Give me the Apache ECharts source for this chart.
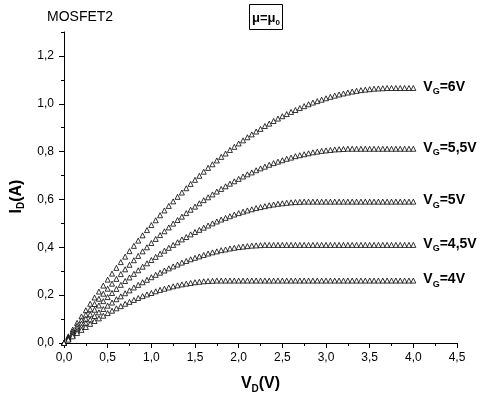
<!DOCTYPE html>
<html><head><meta charset="utf-8">
<script src="https://cdn.jsdelivr.net/npm/echarts@6/dist/echarts.min.js"></script>
<style>html,body{margin:0;padding:0;background:#fff}#c{width:482px;height:395px}</style>
</head><body><div id="c"></div>
<script>
const vd = [0,0.05,0.1,0.15,0.2,0.25,0.3,0.35,0.4,0.45,
0.5,0.55,0.6,0.65,0.7,0.75,0.8,0.85,0.9,0.95,
1,1.05,1.1,1.15,1.2,1.25,1.3,1.35,1.4,1.45,
1.5,1.55,1.6,1.65,1.7,1.75,1.8,1.85,1.9,1.95,
2,2.05,2.1,2.15,2.2,2.25,2.3,2.35,2.4,2.45,
2.5,2.55,2.6,2.65,2.7,2.75,2.8,2.85,2.9,2.95,
3,3.05,3.1,3.15,3.2,3.25,3.3,3.35,3.4,3.45,
3.5,3.55,3.6,3.65,3.7,3.75,3.8,3.85,3.9,3.95,
4];
const id6 = [0,0.028,0.056,0.084,0.111,0.137,0.164,0.190,0.215,0.240,
0.265,0.290,0.314,0.338,0.361,0.384,0.406,0.428,0.450,0.472,
0.493,0.513,0.534,0.554,0.573,0.592,0.611,0.629,0.647,0.665,
0.682,0.699,0.716,0.732,0.747,0.763,0.778,0.792,0.807,0.820,
0.834,0.847,0.860,0.872,0.884,0.895,0.907,0.917,0.928,0.938,
0.948,0.957,0.966,0.974,0.982,0.990,0.998,1.005,1.011,1.017,
1.023,1.029,1.034,1.039,1.043,1.047,1.051,1.054,1.057,1.059,
1.061,1.063,1.064,1.065,1.066,1.066,1.066,1.066,1.066,1.066,
1.066];
const id55 = [0,0.024,0.048,0.072,0.095,0.118,0.141,0.163,0.185,0.206,
0.227,0.248,0.268,0.288,0.308,0.327,0.346,0.364,0.383,0.400,
0.418,0.435,0.451,0.467,0.483,0.499,0.514,0.528,0.543,0.557,
0.570,0.584,0.597,0.609,0.621,0.633,0.644,0.655,0.666,0.676,
0.686,0.696,0.705,0.713,0.722,0.730,0.737,0.745,0.752,0.758,
0.764,0.770,0.775,0.781,0.785,0.789,0.793,0.797,0.800,0.803,
0.805,0.807,0.809,0.810,0.811,0.812,0.812,0.812,0.812,0.812,
0.812,0.812,0.812,0.812,0.812,0.812,0.812,0.812,0.812,0.812,
0.812];
const id5 = [0,0.021,0.041,0.062,0.081,0.101,0.120,0.139,0.157,0.175,
0.192,0.209,0.226,0.243,0.259,0.274,0.289,0.304,0.319,0.333,
0.347,0.360,0.373,0.386,0.398,0.410,0.421,0.433,0.443,0.454,
0.464,0.473,0.482,0.491,0.500,0.508,0.516,0.523,0.530,0.537,
0.543,0.549,0.554,0.559,0.564,0.568,0.572,0.576,0.579,0.582,
0.584,0.586,0.588,0.589,0.590,0.591,0.591,0.591,0.591,0.591,
0.591,0.591,0.591,0.591,0.591,0.591,0.591,0.591,0.591,0.591,
0.591,0.591,0.591,0.591,0.591,0.591,0.591,0.591,0.591,0.591,
0.591];
const id45 = [0,0.017,0.034,0.051,0.067,0.083,0.098,0.113,0.128,0.142,
0.156,0.169,0.183,0.195,0.208,0.220,0.232,0.243,0.254,0.264,
0.275,0.285,0.294,0.303,0.312,0.320,0.328,0.336,0.343,0.350,
0.356,0.362,0.368,0.374,0.379,0.383,0.388,0.391,0.395,0.398,
0.401,0.403,0.405,0.407,0.408,0.409,0.410,0.410,0.410,0.410,
0.410,0.410,0.410,0.410,0.410,0.410,0.410,0.410,0.410,0.410,
0.410,0.410,0.410,0.410,0.410,0.410,0.410,0.410,0.410,0.410,
0.410,0.410,0.410,0.410,0.410,0.410,0.410,0.410,0.410,0.410,
0.410];
const id4 = [0,0.014,0.028,0.042,0.055,0.067,0.080,0.092,0.103,0.114,
0.125,0.135,0.145,0.154,0.164,0.172,0.180,0.188,0.196,0.203,
0.209,0.216,0.222,0.227,0.232,0.237,0.241,0.245,0.248,0.251,
0.254,0.256,0.258,0.259,0.260,0.261,0.261,0.261,0.261,0.261,
0.261,0.261,0.261,0.261,0.261,0.261,0.261,0.261,0.261,0.261,
0.261,0.261,0.261,0.261,0.261,0.261,0.261,0.261,0.261,0.261,
0.261,0.261,0.261,0.261,0.261,0.261,0.261,0.261,0.261,0.261,
0.261,0.261,0.261,0.261,0.261,0.261,0.261,0.261,0.261,0.261,
0.261];
const curves = [id6, id55, id5, id45, id4];
const gateLabels = ['6V', '5,5V', '5V', '4,5V', '4V'];
const yMajorTicks = [0, 0.2, 0.4, 0.6, 0.8, 1.0, 1.2];

const FONT = '"Liberation Sans", Arial, sans-serif';
function subRich(big, small, drop) {
  return {
    b: {fontFamily: FONT, fontSize: big, fontWeight: 'bold', color: '#000', verticalAlign: 'top', lineHeight: big + 2},
    s: {fontFamily: FONT, fontSize: small, fontWeight: 'bold', color: '#000', verticalAlign: 'bottom', lineHeight: small + 1, padding: [drop, 0, 0, 0]}
  };
}
const comma = v => (Math.abs(v) < 1e-9 ? 0 : v).toFixed(1).replace('.', ',');

const chart = echarts.init(document.getElementById('c'), null, {renderer: 'canvas'});
const series = curves.map((arr, k) => ({
  type: 'line',
  name: 'VG=' + gateLabels[k],
  data: vd.map((x, i) => [x, arr[i]]),
  symbol: 'triangle',
  symbolSize: 5,
  showSymbol: true,
  lineStyle: {width: 0},
  itemStyle: {color: '#fff', borderColor: '#000', borderWidth: 0.8},
  emphasis: {disabled: true},
  endLabel: {
    show: true,
    distance: 10,
    formatter: '{b|V}{s|G}{b|=' + gateLabels[k] + '}',
    rich: subRich(14, 9, 10)
  }
}));

chart.setOption({
  animation: false,
  backgroundColor: '#fff',
  title: [
    {text: 'MOSFET2', left: 47, top: 10, padding: 0,
     textStyle: {fontFamily: FONT, fontSize: 14, fontWeight: 'normal', color: '#000'}},
    {text: '{b|μ=μ}{s|0}', left: 249, top: 6, padding: [6, 3, 3, 3],
     borderColor: '#000', borderWidth: 1,
     textStyle: {rich: subRich(13, 8, 9)}}
  ],
  grid: {left: 64, right: 25, top: 32, bottom: 52, outerBoundsMode: 'none'},
  xAxis: {
    type: 'value', min: 0, max: 4.5, interval: 0.5,
    axisLine: {lineStyle: {color: '#000', width: 1}},
    axisTick: {show: true, length: 5, lineStyle: {color: '#000'}},
    minorTick: {show: true, splitNumber: 2, length: 3, lineStyle: {color: '#000'}},
    splitLine: {show: false}, minorSplitLine: {show: false},
    axisLabel: {formatter: comma, color: '#000', fontSize: 12, fontFamily: FONT, margin: 9},
    name: '{b|V}{s|D}{b|(V)}', nameLocation: 'middle', nameGap: 33,
    nameTextStyle: {rich: subRich(16, 10, 10)}
  },
  yAxis: [{
    type: 'value', min: 0, max: 1.3, interval: 0.2,
    axisLine: {show: true, lineStyle: {color: '#000', width: 1}},
    axisTick: {show: true, length: 5, lineStyle: {color: '#000'}, customValues: yMajorTicks},
    splitLine: {show: false},
    axisLabel: {formatter: v => (v > 1.25 ? '' : comma(v)), color: '#000', fontSize: 12, fontFamily: FONT, margin: 10, customValues: yMajorTicks},
    name: '{b|I}{s|D}{b|(A)}', nameLocation: 'middle', nameGap: 31, nameRotate: 90,
    nameTextStyle: {rich: subRich(16, 10, 10), padding: [0, 18, 0, 0]}
  }, {
    type: 'value', min: 0, max: 1.3, interval: 0.1, position: 'left', offset: 0,
    axisLine: {show: false}, axisLabel: {show: false}, splitLine: {show: false},
    axisTick: {show: true, length: 3, lineStyle: {color: '#000'}}
  }],
  series: series
});
</script>
</body></html>
